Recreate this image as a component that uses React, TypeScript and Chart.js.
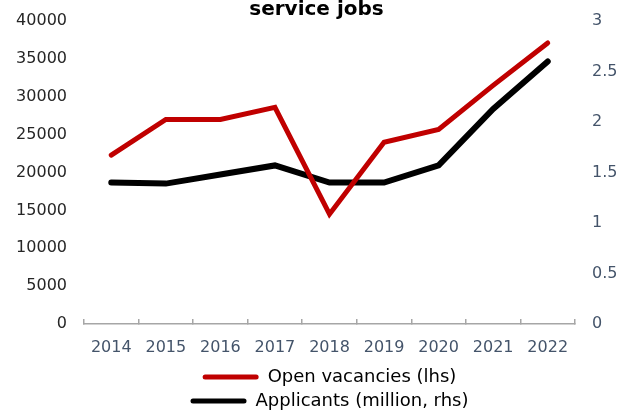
import React, { useEffect, useRef } from "react";
import { Chart, registerables } from "chart.js";

Chart.register(...registerables);

const years = ["2014", "2015", "2016", "2017", "2018", "2019", "2020", "2021", "2022"];
const openVacancies = [22300, 27000, 27000, 28600, 14500, 24000, 25700, 31500, 37100];
const applicantsMillion = [1.4, 1.39, 1.48, 1.57, 1.4, 1.4, 1.57, 2.13, 2.6];
const leftTicks = [0, 5000, 10000, 15000, 20000, 25000, 30000, 35000, 40000];
const rightTicks = [0, 0.5, 1, 1.5, 2, 2.5, 3];

const FONT = "'DejaVu Sans', sans-serif";

export default function App() {
  const ref = useRef<HTMLCanvasElement | null>(null);
  useEffect(() => {
    if (!ref.current) return;
    const chart = new Chart(ref.current, {
      type: "line",
      data: {
        labels: years,
        datasets: [
          {
            label: "Open vacancies (lhs)",
            data: openVacancies,
            borderColor: "#C00000",
            backgroundColor: "#C00000",
            borderWidth: 5,
            borderCapStyle: "round",
            pointRadius: 0,
            yAxisID: "y",
            tension: 0,
          },
          {
            label: "Applicants (million, rhs)",
            data: applicantsMillion,
            borderColor: "#000000",
            backgroundColor: "#000000",
            borderWidth: 6,
            borderCapStyle: "round",
            pointRadius: 0,
            yAxisID: "y1",
            tension: 0,
          },
        ],
      },
      options: {
        animation: false,
        responsive: true,
        maintainAspectRatio: false,
        layout: { padding: { left: 16, right: 16, top: 0, bottom: 2 } },
        plugins: {
          title: {
            display: true,
            text: "service jobs",
            color: "#000",
            font: { family: FONT, size: 20, weight: "bold", lineHeight: 1 },
            padding: { top: 0, bottom: 1 },
          },
          legend: {
            position: "bottom",
            fullSize: false,
            maxHeight: 48,
            labels: {
              boxWidth: 56,
              boxHeight: 5,
              useBorderRadius: true,
              borderRadius: 2.5,
              color: "#000",
              font: { family: FONT, size: 18 },
              padding: 6,
              generateLabels: (c: any) =>
                Chart.defaults.plugins.legend.labels.generateLabels(c).map((it: any) => ({
                  ...it,
                  lineWidth: 0,
                })),
            },
          },
          tooltip: { enabled: false },
        },
        scales: {
          x: {
            offset: true,
            afterFit: (s: any) => {
              s.height = 38;
              s.paddingLeft = 0;
              s.paddingRight = 0;
            },
            grid: {
              display: true,
              offset: true,
              drawOnChartArea: false,
              drawTicks: true,
              tickLength: -5,
              color: "#A6A6A6",
              lineWidth: 1.5,
            },
            border: { display: true, color: "#A6A6A6", width: 1.5 },
            ticks: {
              color: "#44546A",
              font: { family: FONT, size: 16 },
              padding: 19,
              maxRotation: 0,
            },
          },
          y: {
            position: "left",
            min: 0,
            max: 40000,
            afterBuildTicks: (s: any) => {
              s.ticks = leftTicks.map((v) => ({ value: v }));
            },
            afterFit: (s: any) => {
              s.width = 68;
              s.paddingTop = 0;
              s.paddingBottom = 0;
            },
            grid: { display: false, drawTicks: false },
            border: { display: false },
            ticks: {
              color: "#262626",
              font: { family: FONT, size: 16 },
              padding: 17,
              callback: (v: any) => String(v),
            },
          },
          y1: {
            position: "right",
            min: 0,
            max: 3,
            afterBuildTicks: (s: any) => {
              s.ticks = rightTicks.map((v) => ({ value: v }));
            },
            afterFit: (s: any) => {
              s.width = 42;
              s.paddingTop = 0;
              s.paddingBottom = 0;
            },
            grid: { display: false, drawTicks: false },
            border: { display: false },
            ticks: {
              color: "#44546A",
              font: { family: FONT, size: 16 },
              padding: 17,
              callback: (v: any) => String(v),
            },
          },
        },
      },
    });
    return () => chart.destroy();
  }, []);
  return (
    <div style={{ position: "fixed", left: 0, top: 0, width: 633, height: 412 }}>
      <canvas ref={ref} />
    </div>
  );
}
